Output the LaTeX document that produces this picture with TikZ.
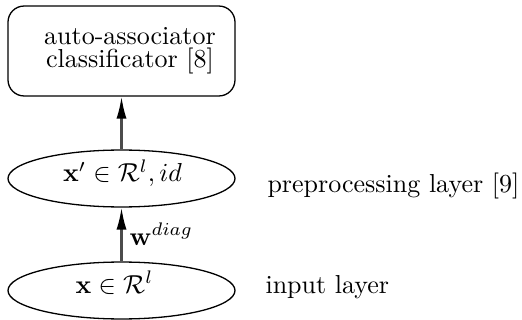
\documentclass[tikz,border=0pt]{standalone}
\usetikzlibrary{arrows.meta,shapes.geometric}
\begin{document}
\begin{tikzpicture}[x=0.3846pt,y=-0.3846pt,
  layer/.style={draw,ellipse,line width=0.5pt,minimum width=87.3pt,minimum height=21.9pt,inner sep=0pt},
  netbox/.style={draw,rounded corners=6.2pt,line width=0.5pt,minimum width=87.3pt,minimum height=34.6pt,inner sep=0pt},
  txt/.style={inner sep=0pt,anchor=base west},
  conn/.style={draw=black!70,line width=0.8pt,-{Latex[length=8.5pt,width=3.9pt,color=black]}}]
\useasboundingbox (0,0) rectangle (522,320);
\node[netbox] (box) at (121.5,51) {};
\node[inner sep=0pt,align=center,font=\fontsize{10}{8.7}\selectfont] (boxt) at (130,51) {auto-associator\\classificator [8]};
\node[layer] (pre) at (121.5,178.5) {};
\node[layer] (inp) at (121.5,290.5) {};
\node[inner sep=0pt,anchor=base] (pret) at (122.5,182) {$\mathbf{x}'\in\mathcal{R}^l, id$};
\node[inner sep=0pt,anchor=base] (inpt) at (114.5,293) {$\mathbf{x}\in\mathcal{R}^l$};
\node[txt] (prel) at (267,192.7) {preprocessing layer [9]};
\node[txt] (inpl) at (265,293) {input layer};
\node[txt] (wl) at (129,245) {$\mathbf{w}^{diag}$};
\draw[conn] (pre.north) -- (box.south);
\draw[conn] (inp.north) -- (pre.south);
\end{tikzpicture}
\end{document}
